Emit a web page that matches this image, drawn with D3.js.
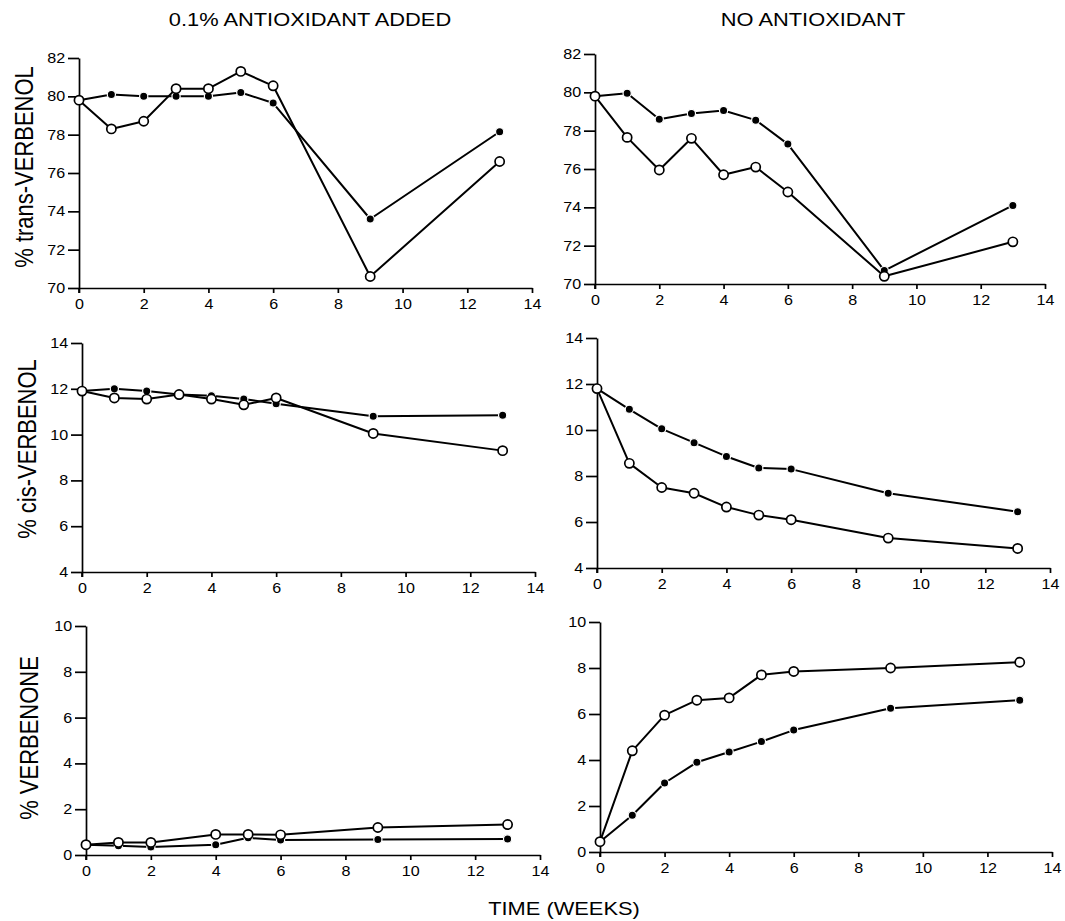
<!DOCTYPE html>
<html><head><meta charset="utf-8">
<script src="https://cdn.jsdelivr.net/npm/d3@7"></script>
<style>
body{margin:0;background:#fff}
text{font-family:"Liberation Sans",Arial,Helvetica,sans-serif;fill:#000}
</style>
</head><body>
<svg id="chart" width="1065" height="921"></svg>
<script>
// ---------- DATA ----------
const columnTitles = ["0.1% ANTIOXIDANT ADDED", "NO ANTIOXIDANT"];
const rowLabels = ["% trans-VERBENOL", "% cis-VERBENOL", "% VERBENONE"];
const xAxisTitle = "TIME (WEEKS)";
const xTicks = [0, 2, 4, 6, 8, 10, 12, 14];
const yTicksTrans = [70, 72, 74, 76, 78, 80, 82];
const yTicksCis = [4, 6, 8, 10, 12, 14];
const yTicksVerbenone = [0, 2, 4, 6, 8, 10];

const weeks = [0, 1, 2, 3, 4, 5, 6, 9, 13];
const weeksVerbenoneAdded = [0, 1, 2, 4, 5, 6, 9, 13];

// trans-verbenol
const transAddedFilled = [79.8, 80.1, 80.0, 80.0, 80.0, 80.2, 79.65, 73.6, 78.15];
const transAddedOpen   = [79.8, 78.3, 78.7, 80.4, 80.4, 81.3, 80.55, 70.6, 76.6];
const transNoneFilled  = [79.8, 79.95, 78.6, 78.9, 79.05, 78.55, 77.3, 70.7, 74.1];
const transNoneOpen    = [79.8, 77.65, 75.95, 77.6, 75.7, 76.1, 74.8, 70.4, 72.2];
// cis-verbenol
const cisAddedFilled = [11.9, 12.0, 11.9, 11.75, 11.7, 11.55, 11.35, 10.8, 10.85];
const cisAddedOpen   = [11.9, 11.6, 11.55, 11.75, 11.55, 11.3, 11.6, 10.05, 9.3];
const cisNoneFilled  = [11.8, 10.9, 10.05, 9.45, 8.85, 8.35, 8.3, 7.25, 6.45];
const cisNoneOpen    = [11.8, 8.55, 7.5, 7.25, 6.65, 6.3, 6.1, 5.3, 4.85];
// verbenone
const verbAddedFilled = [0.45, 0.4, 0.35, 0.45, 0.75, 0.65, 0.68, 0.7];
const verbAddedOpen   = [0.45, 0.55, 0.55, 0.9, 0.9, 0.88, 1.2, 1.33];
const verbNoneFilled  = [0.45, 1.6, 3.0, 3.9, 4.35, 4.8, 5.3, 6.25, 6.6];
const verbNoneOpen    = [0.45, 4.4, 5.95, 6.6, 6.7, 7.7, 7.85, 8.0, 8.25];

// ---------- PANELS ----------
const panels = [
  {x:weeks, filled:transAddedFilled, open:transAddedOpen, yTicks:yTicksTrans,
   box:{x0:79, x1:532, yTop:58, yBot:288}},
  {x:weeks, filled:transNoneFilled, open:transNoneOpen, yTicks:yTicksTrans,
   box:{x0:595, x1:1045, yTop:54, yBot:284}},
  {x:weeks, filled:cisAddedFilled, open:cisAddedOpen, yTicks:yTicksCis,
   box:{x0:82, x1:535, yTop:343, yBot:572}},
  {x:weeks, filled:cisNoneFilled, open:cisNoneOpen, yTicks:yTicksCis,
   box:{x0:597, x1:1050, yTop:338, yBot:568}},
  {x:weeksVerbenoneAdded, filled:verbAddedFilled, open:verbAddedOpen, yTicks:yTicksVerbenone,
   box:{x0:86, x1:540, yTop:626, yBot:855}},
  {x:weeks, filled:verbNoneFilled, open:verbNoneOpen, yTicks:yTicksVerbenone,
   box:{x0:600, x1:1052, yTop:622, yBot:852}}
];

const svg = d3.select("#chart");
const SX = 1.15; // horizontal stretch of the scanned lettering

panels.forEach(p => {
  const b = p.box;
  const xs = d3.scaleLinear().domain([0, 14]).range([b.x0, b.x1]);
  const ys = d3.scaleLinear().domain(d3.extent(p.yTicks)).range([b.yBot, b.yTop]);
  const g = svg.append("g");

  const xa = g.append("g").attr("transform", `translate(0,${b.yBot})`)
    .call(d3.axisBottom(xs).tickValues(xTicks).tickSize(5).tickSizeOuter(0).tickPadding(6));
  const ya = g.append("g").attr("transform", `translate(${b.x0},0)`)
    .call(d3.axisLeft(ys).tickValues(p.yTicks).tickSize(11).tickSizeOuter(0).tickPadding(1));
  [xa, ya].forEach(a => {
    a.selectAll("path,line").attr("stroke", "#000").attr("stroke-width", 1.7);
    a.selectAll("text").attr("font-size", 14).attr("transform", `scale(${SX},1)`)
      .style("font-family", '"Liberation Sans",Arial,sans-serif');
  });
  g.append("line").attr("x1", b.x0).attr("x2", b.x0).attr("y1", b.yBot).attr("y2", b.yBot + 5)
    .attr("stroke", "#000").attr("stroke-width", 1.7);

  const pts = arr => arr.map((v, i) => [p.x[i], v]);
  const line = d3.line().x(d => xs(d[0])).y(d => ys(d[1]));

  g.append("path").attr("d", line(pts(p.filled))).attr("fill", "none")
    .attr("stroke", "#000").attr("stroke-width", 2).attr("stroke-linejoin", "round");
  g.selectAll(".f").data(pts(p.filled)).join("circle").attr("class", "f")
    .attr("cx", d => xs(d[0])).attr("cy", d => ys(d[1])).attr("r", 4.1)
    .attr("fill", "#000").attr("stroke", "#fff").attr("stroke-width", 1.2);
  g.append("path").attr("d", line(pts(p.open))).attr("fill", "none")
    .attr("stroke", "#000").attr("stroke-width", 2).attr("stroke-linejoin", "round");
  g.selectAll(".o").data(pts(p.open)).join("circle").attr("class", "o")
    .attr("cx", d => xs(d[0])).attr("cy", d => ys(d[1])).attr("r", 4.6)
    .attr("fill", "#fff").attr("stroke", "#000").attr("stroke-width", 1.7);
});

const titleX = [310, 813];
columnTitles.forEach((t, i) => {
  svg.append("text").attr("transform", `translate(${titleX[i]},26) scale(${SX},1)`)
    .attr("text-anchor", "middle").attr("font-size", 19).text(t);
});

const labelPos = [[33, 167], [36, 449], [38, 738]];
rowLabels.forEach((t, i) => {
  svg.append("text")
    .attr("transform", `translate(${labelPos[i][0]},${labelPos[i][1]}) rotate(-90) scale(1,${SX})`)
    .attr("text-anchor", "middle").attr("font-size", 22).text(t);
});

svg.append("text").attr("transform", `translate(564,915) scale(${SX},1)`)
  .attr("text-anchor", "middle").attr("font-size", 19).text(xAxisTitle);
</script>
</body></html>
